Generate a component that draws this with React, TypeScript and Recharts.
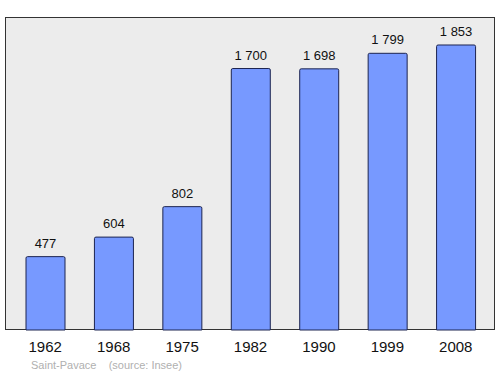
import React from 'react';
import { BarChart, Bar, XAxis, YAxis, LabelList } from 'recharts';

const years = ['1962', '1968', '1975', '1982', '1990', '1999', '2008'];
const population = [477, 604, 802, 1700, 1698, 1799, 1853];

const data = years.map((year, i) => ({ year, population: population[i] }));

// "1853" -> "1 853"
const fmt = (v: number) => String(v).replace(/\B(?=(\d{3})+(?!\d))/g, ' ');

const App: React.FC = () => {
  return (
    <div style={{ position: 'absolute', left: 0, top: 0, width: 500, height: 374, fontFamily: '"Liberation Sans", Arial, sans-serif' }}>
      {/* frame behind the plot */}
      <div
        style={{
          position: 'absolute',
          left: 5,
          top: 17,
          width: 490,
          height: 313,
          boxSizing: 'border-box',
          background: '#ececec',
          border: '1.5px solid #333',
        }}
      />
      <div style={{ position: 'absolute', left: 0, top: 0 }}>
        <BarChart
          width={500}
          height={374}
          data={data}
          margin={{ top: 17, right: 5, left: 5, bottom: 14 }}
          barSize={39}
        >
          <XAxis
            dataKey="year"
            height={30}
            axisLine={false}
            tickLine={false}
            tickMargin={5}
            padding={{ left: 6, right: 5 }}
            tick={{ fill: '#111', fontSize: 15 }}
            interval={0}
          />
          <YAxis hide domain={[0, 2035]} />
          <Bar
            dataKey="population"
            fill="#7799ff"
            stroke="#1c2450"
            strokeWidth={1}
            radius={[1.5, 1.5, 0, 0]}
            isAnimationActive={false}
          >
            <LabelList
              dataKey="population"
              position="top"
              offset={9}
              formatter={(v: any) => fmt(Number(v))}
              style={{ fill: '#111', fontSize: 13 }}
            />
          </Bar>
        </BarChart>
      </div>
      <div
        style={{
          position: 'absolute',
          left: 31,
          top: 359,
          fontSize: 11,
          color: '#b0b0b0',
          whiteSpace: 'pre',
        }}
      >
        {'Saint-Pavace    (source: Insee)'}
      </div>
    </div>
  );
};

export default App;
